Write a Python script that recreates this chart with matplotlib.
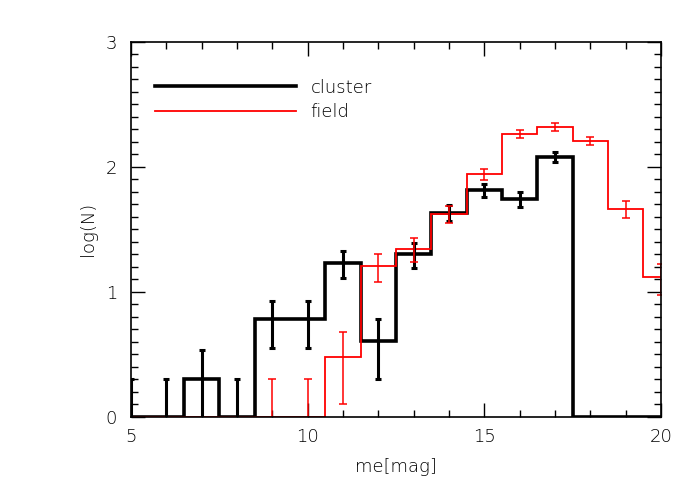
import numpy as np
import matplotlib.pyplot as plt
from matplotlib.ticker import MultipleLocator

plt.rcParams['font.family'] = ['DejaVu Sans']
plt.rcParams['font.weight'] = 'light'
plt.rcParams['axes.labelweight'] = 'light'

# bin centres (magnitude) and counts
mag = [5, 6, 7, 8, 9, 10, 11, 12, 13, 14, 15, 16, 17, 18, 19, 20]
n_cluster = [1, 1, 2, 1, 6, 6, 17, 4, 20, 43, 65, 55, 120, 0, 0, 0]
n_field = [0, 0, 0, 0, 1, 1, 3, 16, 22, 42, 87, 182, 209, 161, 46, 13]


def log_counts(n):
    n = np.array(n, dtype=float)
    val = np.where(n > 0, np.log10(np.where(n > 0, n, 1)), 0.0)
    hi = np.full(n.shape, np.nan)
    lo = np.full(n.shape, np.nan)
    ok = n > 0
    hi[ok] = np.log10(n[ok] + np.sqrt(n[ok]))
    low = n[ok] - np.sqrt(n[ok])
    lo[ok] = np.where(low > 0, np.log10(np.where(low > 0, low, 1)), -1.0)
    return val, lo, hi


x = np.array(mag, dtype=float)
edges = np.append(x - 0.5, x[-1] + 0.5)

fig = plt.figure(figsize=(7, 5), dpi=100)
ax = fig.add_axes([131 / 700, 1 - 416.7 / 500, 530 / 700, 375 / 500])

# cluster
val_c, lo_c, hi_c = log_counts(n_cluster)
ax.stairs(val_c, edges, color='black', linewidth=2.6, baseline=None, label='cluster')
m = ~np.isnan(hi_c)
ax.errorbar(x[m], val_c[m], yerr=[val_c[m] - lo_c[m], hi_c[m] - val_c[m]], fmt='none',
            ecolor='black', elinewidth=2.2, capsize=2.0, capthick=2.2)

# field
val_f, lo_f, hi_f = log_counts(n_field)
ax.stairs(val_f, edges, color='red', linewidth=1.3, baseline=None, label='field')
m = ~np.isnan(hi_f)
ax.errorbar(x[m], val_f[m], yerr=[val_f[m] - lo_f[m], hi_f[m] - val_f[m]], fmt='none',
            ecolor='red', elinewidth=1.1, capsize=2.6, capthick=1.1)

ax.set_xlim(5, 20)
ax.set_ylim(0, 3)
ax.xaxis.set_major_locator(MultipleLocator(5))
ax.xaxis.set_minor_locator(MultipleLocator(1))
ax.yaxis.set_major_locator(MultipleLocator(1))
ax.yaxis.set_minor_locator(MultipleLocator(0.1))
ax.tick_params(which='both', direction='in', top=True, right=True, labelsize=13, width=1)
ax.tick_params(which='major', length=10, pad=8)
ax.tick_params(which='minor', length=5)
ax.tick_params(axis='y', which='major', pad=10)
for s in ax.spines.values():
    s.set_linewidth(1.2)

ax.set_xlabel('me[mag]', fontsize=13, labelpad=9)
ax.set_ylabel('log(N)', fontsize=13, labelpad=6)

ax.legend(loc='upper left', bbox_to_anchor=(0.015, 0.945), frameon=False, fontsize=13,
          handlelength=7.8, handletextpad=0.8, labelspacing=0.35)

fig.savefig('out.png', dpi=100)
